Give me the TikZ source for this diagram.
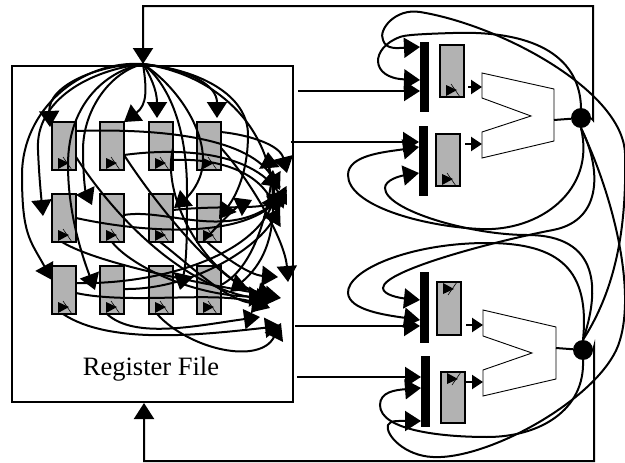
\documentclass[tikz,border=0pt]{standalone}
\usepackage{fontspec}
\setmainfont{Liberation Serif}
\usetikzlibrary{arrows.meta}
\begin{document}
\begin{tikzpicture}[x=1pt,y=-1pt,
      wire/.style = {line width=2pt, -{Triangle[length=16pt,width=20pt]}},
      stub/.style = {line width=2.4pt, -{Triangle[length=11pt,width=14pt]}},
      regbox/.style = {shape=rectangle, draw, fill=gray!60, line width=1.5pt,
        anchor=north west, inner sep=0pt, outer sep=0pt, minimum width=24pt, minimum height=48pt},
      latch/.style = {shape=rectangle, draw=none, fill=black, anchor=north west,
        inner sep=0pt, outer sep=0pt, minimum width=9pt, minimum height=70pt},
      joint/.style = {shape=circle, fill=black, inner sep=0pt, minimum size=20pt},
      clk/.pic = {
        \fill (6,-12) -- (17,-7) -- (6,-1) -- cycle;
        \draw[line width=0.6pt] (11,-13) -- (20,0);}]
      \useasboundingbox (0,0) rectangle (625,463);
      % register file
      \node[draw, line width=1.5pt, anchor=north west, inner sep=0pt, outer sep=0pt,
        minimum width=281pt, minimum height=336pt] (file) at (12,66) {};
      \node[font=\fontsize{26.5}{28}\selectfont] (title) at (151,369) {Register File};
      \foreach \col/\x in {1/52,2/100,3/149,4/197}
        \foreach \row/\y in {1/122,2/194,3/266} {
          \node[regbox] (r\row\col) at (\x,\y) {};
          \path (r\row\col.south west) pic {clk};
        }
      \coordinate (src) at (143,64);
      % writes into the file
      \draw[wire] (src) .. controls (100,64) and (48,85) .. (50,127);
      \draw[wire] (src) .. controls (147,90) and (147,105) .. (r12.north east);
      \draw[wire] (src) .. controls (150,75) and (157,90) .. (157,118);
      \draw[wire] (src) .. controls (190,70) and (217,85) .. (217,118);
      \draw[wire] (src) .. controls (90,70) and (35,100) .. (38,150) .. controls (39,175) and (41,195) .. (43,216);
      \draw[wire] (src) .. controls (110,72) and (83,110) .. (83,150) .. controls (83,172) and (85,190) .. (92,205);
      \draw[wire] (src) .. controls (175,85) and (203,125) .. (203,160) .. controls (203,180) and (190,195) .. (174,208);
      \draw[wire] (src) .. controls (200,70) and (248,95) .. (248,135) .. controls (248,165) and (240,190) .. (219,219);
      \draw[wire] (src) .. controls (80,60) and (22,110) .. (22,175) .. controls (22,235) and (30,240) .. (52,280);
      \draw[wire] (src) .. controls (110,70) and (68,100) .. (68,165) .. controls (68,210) and (80,250) .. (95,290);
      \draw[wire] (src) .. controls (170,85) and (187,130) .. (187,190) .. controls (187,230) and (187,260) .. (180,290);
      \draw[wire] (src) .. controls (220,75) and (272,130) .. (273,200) .. controls (274,240) and (262,265) .. (230,292);
      % reads out of the file
      \coordinate (pa) at (268,152);
      \coordinate (pb) at (287,173);
      \coordinate (pc) at (273,170);
      \coordinate (pd) at (287,190);
      \coordinate (pe) at (287,205);
      \coordinate (pf) at (280,190);
      \coordinate (pg) at (278,212);
      \coordinate (ph) at (285,195);
      \coordinate (pi) at (252,200);
      \coordinate (pj) at (280,208);
      \coordinate (pk) at (288,282);
      \coordinate (pl) at (278,277);
      \coordinate (pm) at (281,298);
      \coordinate (pn) at (272,300);
      \coordinate (po) at (274,296);
      \coordinate (pq) at (265,297);
      \coordinate (pr) at (270,308);
      \coordinate (ps) at (268,305);
      \coordinate (pt) at (260,317);
      \coordinate (pu) at (281,323);
      \coordinate (pv) at (281,326);
      \draw[wire] (r11.east |- 0,131) .. controls (170,128) and (250,140) .. (pf);
      \draw[wire] (r12.east |- 0,155) .. controls (175,148) and (250,150) .. (pe);
      \draw[wire] (r13.east |- 0,160) .. controls (215,158) and (255,170) .. (pg);
      \draw[wire] (r14.east |- 0,132) .. controls (250,135) and (280,145) .. (pb);
      \draw[wire] (r14.east |- 0,148) .. controls (250,180) and (285,240) .. (pk);
      \draw[wire] (r21.east |- 0,218) .. controls (140,232) and (240,240) .. (pd);
      \draw[wire] (r22.east |- 0,215) .. controls (165,208) and (225,240) .. (ph);
      \draw[wire] (r23.east |- 0,210) .. controls (220,205) and (260,210) .. (ph);
      \draw[wire] ([xshift=6pt]r24.south west) .. controls (215,228) and (235,208) .. (pi);
      \draw[wire] (r31.east |- 0,283) .. controls (150,285) and (250,260) .. (272,205) .. controls (278,190) and (270,175) .. (pa);
      \draw[wire] (r32.east |- 0,289) .. controls (190,290) and (255,250) .. (pj);
      \draw[wire] (r34.east |- 0,285) .. controls (250,270) and (265,225) .. (pc);
      \draw[wire] (r11.east |- 0,157) .. controls (120,225) and (190,290) .. (pn);
      \draw[wire] (r12.east |- 0,155) .. controls (160,210) and (225,290) .. (pm);
      \draw[wire] (r13.east |- 0,148) .. controls (160,200) and (210,280) .. (po);
      \draw[wire] ([xshift=10pt]r21.south west) .. controls (100,265) and (210,285) .. (po);
      \draw[wire] ([xshift=12pt]r22.south west) .. controls (130,265) and (190,295) .. (pq);
      \draw[wire] ([xshift=11pt]r23.south west) .. controls (190,265) and (225,300) .. (ps);
      \draw[wire] ([xshift=10pt]r24.south west) .. controls (225,258) and (250,275) .. (pl);
      \draw[wire] (r31.east |- 0,293) .. controls (130,305) and (220,290) .. (pr);
      \draw[wire] ([xshift=7pt]r32.south west) .. controls (135,340) and (200,325) .. (pt);
      \draw[wire] ([xshift=11pt]r31.south west) .. controls (110,345) and (200,335) .. (pv);
      \draw[wire] ([xshift=8pt]r33.south west) .. controls (190,350) and (260,365) .. (pu);
      % upper unit
      \node[latch] (lta) at (420,42) {};
      \node[latch] (ltb) at (419,126) {};
      \node[regbox, minimum height=52pt] (rega) at (440,45) {};
      \node[regbox, minimum height=52pt] (regb) at (436,134) {};
      \path (rega.south west) pic {clk};
      \path (regb.south west) pic {clk};
      \draw[line width=0.9pt, fill=white] (482,73) -- (554,89) -- (554,141) -- (482,158)
        -- (482,132) -- (531,116) -- (482,98) -- cycle;
      \coordinate (alua) at (554,120);
      \node[joint] (circa) at (581,118) {};
      \draw[line width=2pt] (alua) -- (circa);
      \draw[stub] (468,87) -- (482,87);
      \draw[stub] (465,144) -- (482,144);
      % lower unit
      \node[latch, minimum height=71pt] (ltc) at (420,272) {};
      \node[latch, minimum height=71pt] (ltd) at (421,356) {};
      \node[regbox, minimum height=53pt] (regc) at (437,282) {};
      \node[regbox, minimum height=51pt] (regd) at (441,372) {};
      \path (regc.north west) pic[yscale=-1] {clk};
      \path (regd.north west) pic[yscale=-1] {clk};
      \draw[line width=0.9pt, fill=white] (483,310) -- (556,327) -- (556,379) -- (483,396)
        -- (483,370) -- (532,353) -- (483,336) -- cycle;
      \coordinate (alub) at (556,348);
      \node[joint] (circb) at (583,350) {};
      \draw[line width=2pt] (alub) -- (circb);
      \draw[stub] (466,325) -- (483,325);
      \draw[stub] (466,382) -- (483,382);
      % file to units
      \foreach \from/\lt/\y in {298/lta/91,291/ltb/142,295/ltc/326,297/ltd/377} {
        \coordinate (in\lt) at (\from,\y);
        \draw[wire] (in\lt) -- (\lt.west |- in\lt);
      }
      % results back to the file
      \draw[wire] (circa.east) -- (593,120) -- (593,6) -- (143,6) -- (src);
      \draw[wire] (circb.east) -- (594,347) -- (594,461) -- (144,461) -- (144,403);
      % bypass loops
      \draw[wire] (circa.north) .. controls (580,60) and (540,30) .. (453,33) .. controls (420,34) and (405,35) .. (400,37)
        .. controls (370,48) and (370,78) .. (lta.west |- 0,80);
      \draw[wire] (circb.north) .. controls (615,290) and (627,230) .. (625,153) .. controls (622,90) and (500,25) .. (420,12)
        .. controls (395,8) and (378,30) .. (383,40) .. controls (386,50) and (398,48) .. (lta.west |- 0,47);
      \draw[wire] (circa.south) .. controls (596,190) and (540,232) .. (480,229) .. controls (420,226) and (348,205) .. (348,175)
        .. controls (348,155) and (385,152) .. (ltb.west |- 0,147);
      \draw[wire] (circb.north) .. controls (600,290) and (600,235) .. (527,235) .. controls (470,235) and (385,210) .. (385,188)
        .. controls (385,180) and (400,176) .. (ltb.west |- 0,173);
      \draw[wire] (circa.south) .. controls (600,165) and (605,220) .. (553,230) .. controls (500,240) and (383,270) .. (383,288)
        .. controls (383,295) and (400,298) .. (ltc.west |- 0,300);
      \draw[wire] (circb.north) .. controls (590,270) and (560,243) .. (487,243) .. controls (410,243) and (347,270) .. (348,293)
        .. controls (349,310) and (385,315) .. (ltc.west |- 0,320);
      \draw[wire] (circb.south) .. controls (585,410) and (540,437) .. (487,437) .. controls (440,437) and (380,430) .. (380,405)
        .. controls (380,392) and (395,390) .. (ltd.west |- 0,388);
      \draw[wire] (circa.south) .. controls (615,200) and (635,290) .. (620,340) .. controls (605,395) and (490,460) .. (433,457)
        .. controls (405,456) and (385,435) .. (388,425) .. controls (390,420) and (400,421) .. (ltd.west |- 0,421);
  \end{tikzpicture}
\end{document}
